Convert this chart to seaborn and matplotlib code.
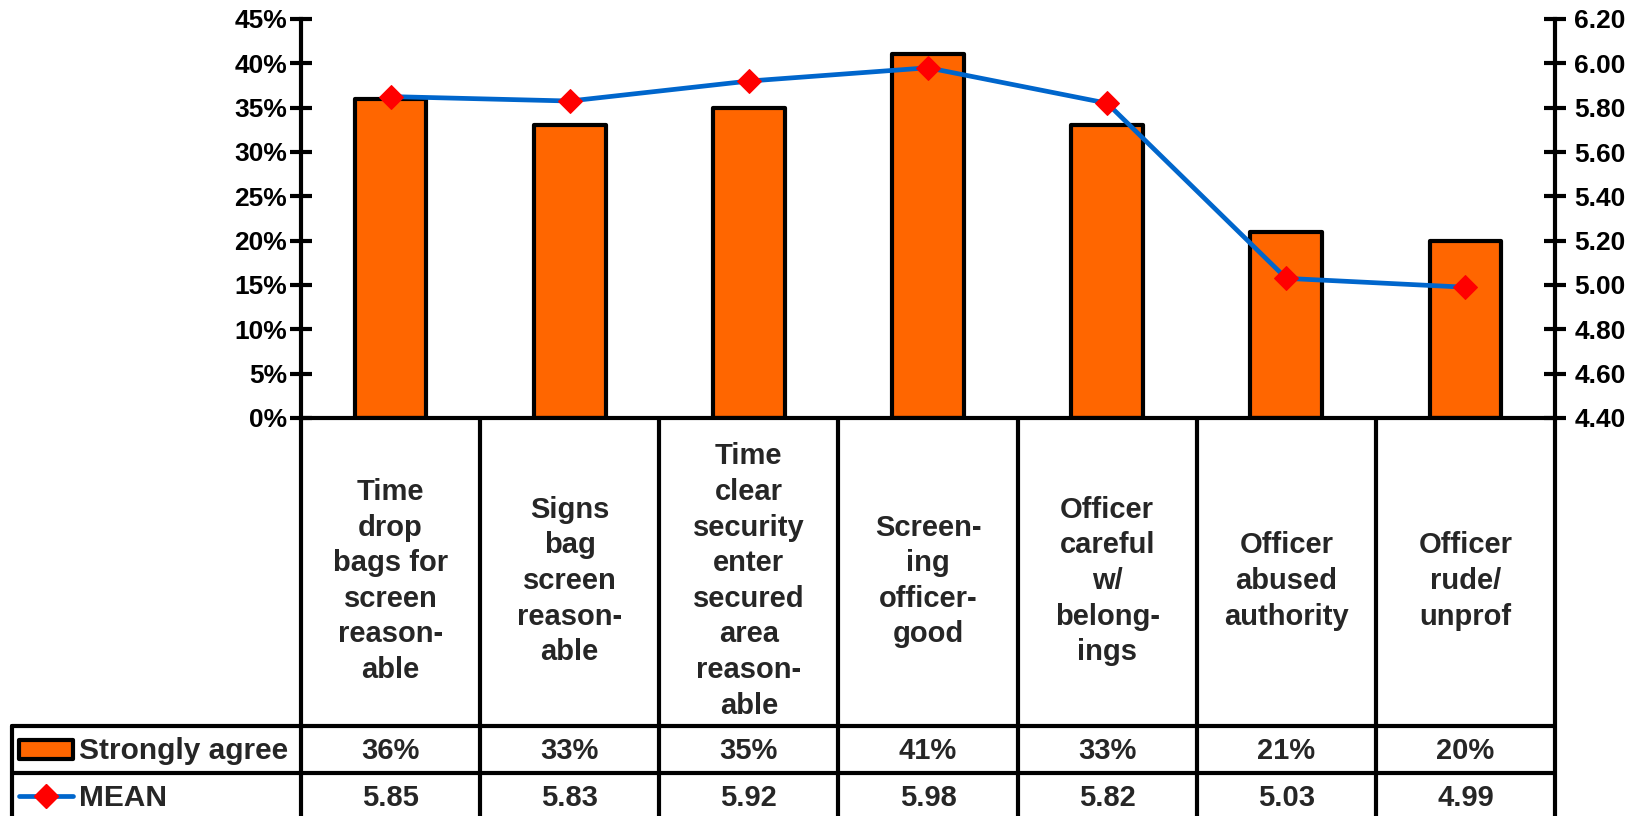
import numpy as np
import pandas as pd
import matplotlib
matplotlib.use("Agg")
import matplotlib.pyplot as plt
import matplotlib.transforms as mtransforms
from matplotlib.patches import Rectangle
from matplotlib.lines import Line2D
import seaborn as sns

categories = [
    "Time\ndrop\nbags for\nscreen\nreason-\nable",
    "Signs\nbag\nscreen\nreason-\nable",
    "Time\nclear\nsecurity\nenter\nsecured\narea\nreason-\nable",
    "Screen-\ning\nofficer-\ngood",
    "Officer\ncareful\nw/\nbelong-\nings",
    "Officer\nabused\nauthority",
    "Officer\nrude/\nunprof",
]
strongly_agree = [0.36, 0.33, 0.35, 0.41, 0.33, 0.21, 0.20]
mean_scores = [5.85, 5.83, 5.92, 5.98, 5.82, 5.03, 4.99]
series_names = ["Strongly agree", "MEAN"]
left_ticks = [0, 0.05, 0.10, 0.15, 0.20, 0.25, 0.30, 0.35, 0.40, 0.45]
right_ticks = [4.40, 4.60, 4.80, 5.00, 5.20, 5.40, 5.60, 5.80, 6.00, 6.20]

sns.set_theme(style="white")
plt.rcParams["font.family"] = ["Liberation Sans", "DejaVu Sans"]
plt.rcParams["font.weight"] = "bold"

BAR = "#FF6600"
LINE = "#0066CC"
W, H = 1644, 816

fig = plt.figure(figsize=(W / 100, H / 100), dpi=100)
ax = fig.add_axes([301 / W, 1 - 418 / H, (1555 - 301) / W, (418 - 19) / H])

df = pd.DataFrame({"cat": list(range(len(categories))), "val": strongly_agree})
sns.barplot(data=df, x="cat", y="val", ax=ax, color=BAR, saturation=1,
            edgecolor="black", linewidth=3, width=0.4, zorder=2)
for p in ax.patches:
    p.set_joinstyle("round")

ax.set_ylim(0, 0.45)
ax.set_yticks(left_ticks)
ax.set_yticklabels([f"{int(round(t*100))}%" for t in left_ticks], fontsize=19, fontweight="bold")
ax.set_xlabel("")
ax.set_ylabel("")
ax.set_xticks([])
for s in ["top", "right"]:
    ax.spines[s].set_visible(False)
for s in ["left", "bottom"]:
    ax.spines[s].set_linewidth(3)
    ax.spines[s].set_color("black")
ax.tick_params(axis="y", direction="inout", length=16, width=3, pad=2, colors="black")

ax2 = ax.twinx()
sns.lineplot(x=np.arange(len(mean_scores)), y=mean_scores, ax=ax2, color=LINE,
             linewidth=3.4, marker="D", markersize=12.5, markerfacecolor="red",
             markeredgecolor="red", zorder=3)
ax2.set_ylim(4.40, 6.20)
ax2.set_yticks(right_ticks)
ax2.set_yticklabels([f"{t:.2f}" for t in right_ticks], fontsize=19, fontweight="bold")
for s in ["top", "left", "bottom"]:
    ax2.spines[s].set_visible(False)
ax2.spines["right"].set_linewidth(3)
ax2.spines["right"].set_color("black")
ax2.tick_params(axis="y", direction="inout", length=16, width=3, pad=6, colors="black")
ax2.set_ylabel("")
ax.set_xlim(-0.5, len(categories) - 0.5)
ax2.set_xlim(-0.5, len(categories) - 0.5)

# ---- data table below the axis ----
trans = mtransforms.blended_transform_factory(ax.transData, ax.transAxes)
n = len(categories)
axh = 418 - 19
def ya(ypix):
    return (418 - ypix) / axh

col_px = (1555 - 301) / n
x_leg_left = -0.5 - (301 - 12) / col_px
y_bottom = ya(830)
y_row1 = ya(726)
y_row2 = ya(773)
lw = 3

# vertical lines
for i in range(n + 1):
    ax.add_line(Line2D([i - 0.5, i - 0.5], [0, y_bottom], transform=trans,
                       color="black", lw=lw, clip_on=False, solid_capstyle="butt"))
ax.add_line(Line2D([x_leg_left, x_leg_left], [y_row1, y_bottom], transform=trans,
                   color="black", lw=lw, clip_on=False))
for yy in [y_row1, y_row2]:
    ax.add_line(Line2D([x_leg_left, n - 0.5], [yy, yy], transform=trans,
                       color="black", lw=lw, clip_on=False))

# category labels
for i, c in enumerate(categories):
    ax.text(i, ya(581), c, transform=trans, ha="center", va="center",
            fontsize=21, fontweight="bold", linespacing=1.345, clip_on=False)

# values
for i, v in enumerate(strongly_agree):
    ax.text(i, ya(751), f"{int(round(v*100))}%", transform=trans, ha="center",
            va="center", fontsize=21, fontweight="bold", clip_on=False)
for i, v in enumerate(mean_scores):
    ax.text(i, ya(798), f"{v:.2f}", transform=trans, ha="center",
            va="center", fontsize=21, fontweight="bold", clip_on=False)

# legend keys in table
px = 1 / col_px
kx0 = x_leg_left + (19 - 12) * px
kx1 = x_leg_left + (73 - 12) * px
ax.add_patch(Rectangle((kx0, ya(759)), kx1 - kx0, ya(740) - ya(759), transform=trans,
                       facecolor=BAR, edgecolor="black", lw=3, clip_on=False,
                       joinstyle="round"))
ax.add_line(Line2D([kx0, kx1], [ya(796), ya(796)], transform=trans, color=LINE,
                   lw=3.4, clip_on=False, solid_capstyle="round"))
ax.add_line(Line2D([(kx0 + kx1) / 2], [ya(796)], transform=trans, color="red",
                   marker="D", markersize=12.5, markeredgecolor="red", lw=0, clip_on=False))
tx = x_leg_left + (79 - 12) * px
ax.text(tx, ya(751), series_names[0], transform=trans, ha="left", va="center",
        fontsize=21.5, fontweight="bold", clip_on=False)
ax.text(tx, ya(798), series_names[1], transform=trans, ha="left", va="center",
        fontsize=21.5, fontweight="bold", clip_on=False)

fig.savefig("out.png", dpi=100, facecolor="white")
